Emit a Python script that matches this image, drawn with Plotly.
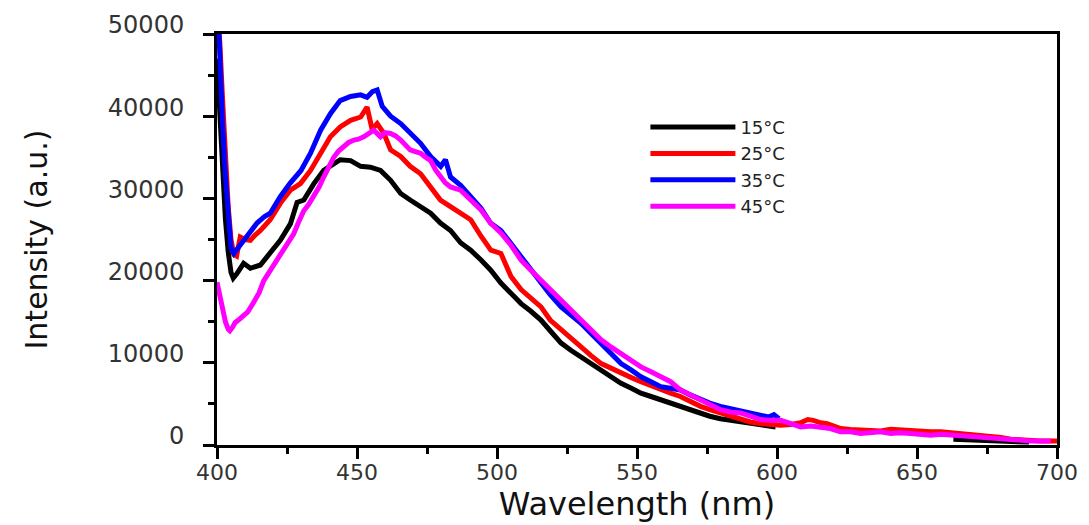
import plotly.graph_objects as go

# ---- data ----
wl_15 = [400, 401, 402, 403, 404, 405, 405.8, 407, 409.5, 411.9, 415.5, 419, 422.6, 426.2, 428.6, 431,
         434.6, 438.1, 441.7, 444, 447.7, 451.3, 454.8, 458.4, 462, 465.6, 469, 472.7, 476.3, 479.8,
         483.4, 487, 490.6, 494.3, 497.7, 501.4, 505, 508.6, 512, 515.7, 519, 522.9, 526.5, 530, 533.5,
         537.2, 540.8, 544.3, 548, 551.4, 555, 558.5, 562, 565.5, 569, 572.7, 576, 579.8, 583.5, 587,
         590.5, 594.1, 597, 599.5,
         None, 663, 670, 677, 684, 690]
int_15 = [47000, 40000, 33000, 27500, 23500, 21000, 20300, 20800, 22100, 21500, 21900, 23300, 24900, 26900,
          29500, 29800, 31800, 33400, 34300, 34700, 34600, 33900, 33800, 33400, 32200, 30600, 29800, 29000,
          28200, 27000, 26100, 24600, 23700, 22500, 21300, 19700, 18500, 17200, 16300, 15200, 13900, 12400,
          11500, 10700, 9900, 9100, 8200, 7500, 6900, 6300, 5900, 5500, 5100, 4700, 4200, 3900, 3500, 3200,
          3000, 2800, 2600, 2400, 2300, 2200,
          None, 700, 600, 500, 400, 350]

wl_25 = [400, 401, 402, 403, 404, 405, 406, 407, 408.3, 410, 411.9, 413.5, 415.5, 419, 422.6, 426.2, 429.8,
         433.4, 437, 440.5, 444, 447.7, 451.3, 453.6, 455.4, 457.2, 459.6, 462, 465.6, 469, 472.7, 476.3,
         479.8, 483.4, 487, 490.6, 494.3, 497.8, 501.4, 505, 508.6, 512, 515.7, 519, 522.9, 526.5, 530,
         533.5, 537.2, 540.8, 544.3, 548, 551.4, 555, 558.5, 562, 565.5, 569, 572.7, 576, 579.8, 583.5, 587,
         590.5, 594.1, 597.7, 601.3, 605, 608.4, 611, 613, 615.6, 617.9, 620.3, 622.7, 626.3, 629.9, 633.4,
         637, 640.6, 644, 647.7, 651, 654.9, 658.5, 662, 665.5, 669.2, 672.7, 676.3, 680, 683.5, 687, 690.6,
         694, 697.8, 700]
int_25 = [53000, 49000, 42000, 35000, 29000, 25000, 23200, 23000, 25300, 25000, 24900, 25500, 26100, 27400,
          29400, 31000, 31800, 33400, 35500, 37500, 38700, 39500, 39900, 41100, 38400, 39100, 37900, 35900,
          35100, 33900, 33000, 31400, 29800, 29000, 28200, 27400, 25400, 23700, 23300, 20500, 18900, 17900,
          16800, 15200, 14000, 12900, 12000, 10900, 9900, 9300, 8700, 8200, 7700, 7200, 6700, 6300, 5900,
          5300, 4700, 4300, 3900, 3500, 3100, 2800, 2600, 2500, 2400, 2500, 2700, 3100, 3000, 2700, 2600,
          2300, 2000, 1900, 1800, 1800, 1700, 1900, 1800, 1800, 1700, 1600, 1600, 1500, 1400, 1300, 1200,
          1000, 900, 700, 600, 500, 500, 500, 500]

wl_35 = [400, 401, 402, 403, 404, 405, 406, 407.5, 409.5, 412, 414.3, 417, 419, 422.6, 426, 430, 433.4, 437,
         440.5, 444, 447.7, 451.3, 453.6, 455.5, 457.2, 459, 462, 465.6, 469, 472.7, 476.3, 479.9, 481.6,
         483.4, 487, 490.6, 494.3, 497.7, 501.4, 505, 508.6, 512, 515.7, 519, 522.9, 526.5, 530, 533.5,
         537.2, 540.8, 544.3, 548, 551.4, 555, 558.5, 562, 565.5, 569, 572.7, 576, 579.8, 583.5, 587, 590.5,
         594.1, 597, 598.9, 600.7]
int_35 = [56000, 46000, 39000, 32800, 27600, 24000, 23300, 24000, 25000, 26000, 27000, 27800, 28200, 30200,
          31800, 33400, 35500, 38300, 40300, 41900, 42400, 42600, 42300, 43000, 43200, 41200, 40000, 39100,
          37900, 36700, 35100, 33900, 34700, 32600, 31600, 30200, 28800, 27000, 26100, 24500, 22900, 21300,
          19700, 18300, 16800, 15800, 14800, 13600, 12400, 11100, 9900, 9100, 8300, 7700, 7100, 6900, 6700,
          6100, 5500, 5100, 4700, 4400, 4200, 3900, 3500, 3400, 3700, 3200]

wl_45 = [400, 401, 402, 403, 404, 404.6, 405.5, 406.5, 408, 409.5, 411, 413, 415, 416.7, 418.5, 420.3, 422,
         423.8, 425.5, 427.4, 429, 431, 432.8, 434.6, 436.5, 438.1, 440, 441.7, 443.5, 445.3, 447, 448.9,
         450.5, 452.4, 454, 456, 458.4, 460, 462, 463.8, 465.6, 467.3, 469, 470.8, 472.7, 474.5, 476.3, 478,
         479.8, 481.5, 483.4, 485, 487, 490.6, 494.3, 497.7, 501.4, 505, 508.6, 512, 515.7, 519, 522.9,
         526.5, 530, 533.5, 537.2, 540.8, 544.3, 548, 551.4, 555, 558.5, 562, 565.5, 569, 572.7, 576, 579.8,
         583.5, 587, 590.5, 594.1, 597.7, 601.3, 605, 608.4, 612, 615.6, 619, 622.7, 626.3, 629.9, 633.4,
         637, 640.6, 644, 647.7, 651, 654.9, 658.5, 662, 665.5, 669.2, 672.7, 676.3, 680, 683.5, 687, 690.6,
         694, 697.8, 700]
int_45 = [19800, 18000, 16500, 15000, 14100, 13900, 14300, 14900, 15300, 15700, 16200, 17300, 18500, 20000,
          21000, 22000, 22700, 23700, 24800, 25700, 27000, 28500, 29300, 30200, 31400, 32600, 33800, 35000,
          35800, 36300, 36800, 37100, 37200, 37500, 37900, 38300, 37500, 38000, 37900, 37600, 37100, 36600,
          35900, 35700, 35500, 35000, 34600, 33500, 32600, 31900, 31400, 31200, 31000, 29800, 28600, 27000,
          25800, 24300, 22500, 21300, 20100, 18900, 17600, 16400, 15200, 14000, 12800, 11900, 11100, 10300,
          9500, 8900, 8300, 7700, 6700, 6100, 5500, 4900, 4300, 4000, 3900, 3500, 3100, 3000, 3000, 2600,
          2200, 2300, 2200, 2000, 1600, 1600, 1400, 1500, 1600, 1400, 1500, 1400, 1300, 1200, 1300, 1200,
          1100, 1000, 900, 800, 700, 600, 500, 500, 500, 500]

series_names = ["15°C", "25°C", "35°C", "45°C"]
series_colors = ["#000000", "#ff0000", "#0000ff", "#ff00ff"]
series_x = [wl_15, wl_25, wl_35, wl_45]
series_y = [int_15, int_25, int_35, int_45]

x_ticks = [400, 450, 500, 550, 600, 650, 700]
y_ticks = [0, 10000, 20000, 30000, 40000, 50000]

fig = go.Figure()
for name, color, xs, ys in zip(series_names, series_colors, series_x, series_y):
    fig.add_trace(go.Scatter(x=xs, y=ys, mode="lines", name=name,
                             line=dict(color=color, width=5), connectgaps=False))

FONT = "DejaVu Sans"
axis_common = dict(showline=True, linecolor="black", linewidth=3, mirror=True,
                   ticks="outside", tickcolor="black", tickwidth=3, ticklen=11,
                   showgrid=False, zeroline=False, automargin=False)

fig.update_layout(
    width=1089, height=525,
    margin=dict(l=217, r=32, t=34, b=80),
    paper_bgcolor="white", plot_bgcolor="white",
    showlegend=True,
    legend=dict(x=0.51, y=0.818, xanchor="left", yanchor="top",
                font=dict(family=FONT, size=18, color="#222222"),
                bgcolor="rgba(0,0,0,0)", itemwidth=85, tracegroupgap=0),
    xaxis=dict(range=[400, 700], tickvals=x_ticks, ticktext=[str(v) for v in x_ticks],
               tickfont=dict(family=FONT, size=22, color="#333333"),
               ticklabelstandoff=-5,
               minor=dict(dtick=25, ticklen=6, tickwidth=3, tickcolor="black", ticks="outside"),
               title=dict(text="Wavelength (nm)", font=dict(family=FONT, size=32, color="#111111"),
                          standoff=4),
               **axis_common),
    yaxis=dict(range=[0, 50000], tickvals=y_ticks, ticktext=[str(v) for v in y_ticks],
               tickfont=dict(family=FONT, size=24, color="#333333"),
               minor=dict(dtick=5000, ticklen=6, tickwidth=3, tickcolor="black", ticks="outside"),
               ticklabelstandoff=14, ticklabelshift=-9,
               title=dict(text="Intensity (a.u.)", font=dict(family=FONT, size=30, color="#111111"),
                          standoff=52),
               **axis_common),
)

fig.write_html("out.html")
